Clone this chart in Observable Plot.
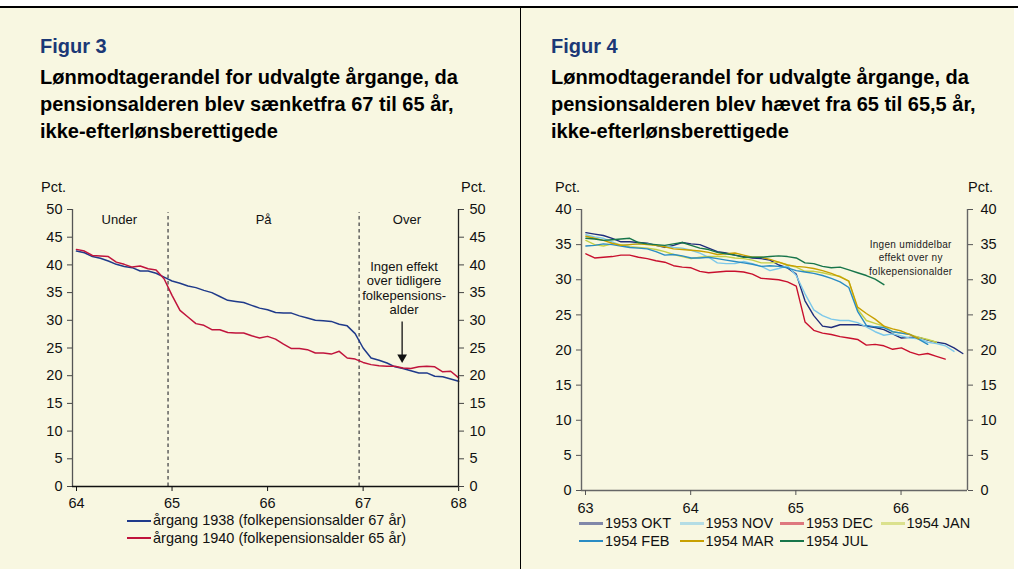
<!DOCTYPE html>
<html>
<head>
<meta charset="utf-8">
<script src="https://cdn.jsdelivr.net/npm/d3@7"></script>
<script src="https://cdn.jsdelivr.net/npm/@observablehq/plot@0.6"></script>
<style>
  html, body { margin: 0; padding: 0; background: #ffffff; }
  #page { position: relative; width: 1018px; height: 569px; background: #ffffff; font-family: "Liberation Sans", Arial, Helvetica, sans-serif; overflow: hidden; }
  .bg { position: absolute; left: 0; top: 7px; width: 1014px; height: 562px; background: #f8f7e1; }
  .topline { position: absolute; left: 0; top: 6px; width: 1018px; height: 1.5px; background: #000; }
  .divider { position: absolute; left: 520px; top: 6px; width: 1.2px; height: 563px; background: #000; }
  .fig { position: absolute; font-weight: bold; font-size: 20px; color: #1b3876; line-height: 26px; }
  .sub { position: absolute; font-weight: bold; font-size: 20px; color: #000; line-height: 27px; }
  .pct { position: absolute; font-size: 14.5px; color: #111; line-height: 17px; }
  .plot { position: absolute; }
  .legend { position: absolute; font-size: 14.5px; color: #111; line-height: 17.5px; }
  .item { display: flex; align-items: center; white-space: nowrap; }
  .sw { display: inline-block; width: 24px; height: 0; margin-right: 2px; }
</style>
</head>
<body>
<div id="page">
  <div class="bg"></div>
  <div class="topline"></div>
  <div class="divider"></div>

  <div class="fig" style="left:40px; top:33px;">Figur 3</div>
  <div class="sub" style="left:40px; top:64px;">Lønmodtagerandel for udvalgte årgange, da<br>pensionsalderen blev sænketfra 67 til 65 år,<br>ikke-efterlønsberettigede</div>
  <div class="pct" style="left:41px; top:179px;">Pct.</div>
  <div class="pct" style="left:461px; top:179px;">Pct.</div>

  <div class="fig" style="left:551px; top:33px;">Figur 4</div>
  <div class="sub" style="left:551px; top:64px;">Lønmodtagerandel for udvalgte årgange, da<br>pensionsalderen blev hævet fra 65 til 65,5 år,<br>ikke-efterlønsberettigede</div>
  <div class="pct" style="left:555px; top:179px;">Pct.</div>
  <div class="pct" style="left:968px; top:179px;">Pct.</div>

  <div id="plot3" class="plot" style="left:0px; top:200px;"></div>
  <div id="plot4" class="plot" style="left:520px; top:200px;"></div>
  <div id="legend3" class="legend" style="left:127px; top:512px;"></div>
  <div id="legend4" class="legend" style="left:579px; top:515px; width:420px; display:flex; flex-wrap:wrap;"></div>
</div>

<script>
// ---------------- Figur 3 data ----------------
// monthly observations, age = 64 + (month + 0.5)/12
const fig3Start = 64;
const fig3Names = ["årgang 1938 (folkepensionsalder 67 år)", "årgang 1940 (folkepensionsalder 65 år)"];
const fig3Colors = ["#1f3a8a", "#c0143c"];
const fig3Cohort1938 = [
  42.5, 42.2, 41.5, 41.2, 40.7, 40.1, 39.7, 39.5, 38.9, 38.9, 38.5, 37.8,
  37.1, 36.7, 36.2, 35.9, 35.4, 35.0, 34.3, 33.6, 33.4, 33.2, 32.7, 32.2,
  31.9, 31.4, 31.3, 31.3, 30.8, 30.4, 30.0, 29.9, 29.8, 29.3, 29.0, 27.6,
  25.0, 23.2, 22.8, 22.3, 21.6, 21.3, 20.9, 20.5, 20.5, 19.9, 19.8, 19.4,
  19.0
];
const fig3Cohort1940 = [
  42.8, 42.5, 41.7, 41.6, 41.5, 40.5, 40.1, 39.6, 39.8, 39.3, 39.1, 37.5,
  34.5, 31.8, 30.6, 29.4, 29.1, 28.3, 28.3, 27.8, 27.7, 27.7, 27.2, 26.8,
  27.1, 26.6, 25.7, 24.9, 24.9, 24.7, 24.1, 24.1, 23.9, 24.4, 23.2, 23.0,
  22.4, 22.0, 21.8, 21.7, 21.7, 21.4, 21.3, 21.6, 21.7, 21.6, 20.7, 20.8,
  19.6
];
const fig3XTicks = [64, 65, 66, 67, 68];
const fig3YTicks = [0, 5, 10, 15, 20, 25, 30, 35, 40, 45, 50];
const fig3Thresholds = [65, 67];
const fig3Regions = ["Under", "På", "Over"];
const fig3RegionAt = [64.49, 66.0, 67.5];
const fig3Note = ["Ingen effekt", "over tidligere", "folkepensions-", "alder"];

// ---------------- Figur 4 data ----------------
// monthly observations, age = 63 + (month + 0.5)/12
const fig4Start = 63;
const fig4Names = ["1953 OKT", "1953 NOV", "1953 DEC", "1954 JAN", "1954 FEB", "1954 MAR", "1954 JUL"];
const fig4Colors = ["#1f2d7c", "#7cc8ea", "#c8102e", "#c3cf48", "#2a8cc4", "#c8a000", "#17754a"];
const okt1953 = [
  36.7, 36.5, 36.3, 35.9, 35.4, 35.4, 35.3, 35.2, 34.9, 34.6, 34.9, 35.3,
  35.1, 35.0, 34.5, 34.0, 33.8, 33.5, 33.3, 33.1, 33.0, 32.8, 32.1, 31.7,
  30.8, 27.0, 24.9, 23.4, 23.2, 23.6, 23.6, 23.6, 23.4, 23.2, 22.9, 22.3,
  21.7, 21.8, 21.8, 21.4, 21.1, 20.9, 20.3, 19.5
];
const nov1953 = [
  36.4, 36.1, 35.9, 35.4, 34.9, 35.0, 35.1, 35.1, 34.9, 34.8, 34.6, 34.5,
  34.2, 33.8, 33.2, 32.4, 32.3, 32.3, 32.6, 32.3, 31.9, 31.3, 31.6, 32.0,
  30.6, 28.0, 25.7, 24.9, 24.4, 24.2, 24.2, 23.9, 23.3, 22.6, 22.1, 22.3,
  22.0, 21.7, 21.6, 21.1, 20.9, 20.6, 19.8
];
const dec1953 = [
  33.7, 33.1, 33.2, 33.3, 33.5, 33.5, 33.2, 33.0, 32.7, 32.5, 32.0, 31.8,
  31.7, 31.2, 31.0, 31.1, 31.2, 31.2, 31.1, 30.8, 30.2, 30.1, 30.0, 29.7,
  29.1, 24.0, 22.8, 22.4, 22.2, 21.9, 21.7, 21.5, 20.7, 20.8, 20.6, 20.1,
  20.3, 19.7, 19.3, 19.5, 19.1, 18.7
];
const jan1954 = [
  35.6, 35.0, 34.8, 35.1, 35.0, 34.7, 34.6, 34.5, 34.3, 34.0, 33.6, 33.3,
  33.0, 33.2, 33.3, 33.3, 33.3, 33.1, 33.0, 32.8, 32.4, 32.4, 32.5, 32.1,
  31.8, 31.2, 31.2, 31.0, 30.7, 30.5, 29.8, 25.8, 24.2, 23.8, 23.4, 22.6,
  22.4, 22.2, 21.8, 21.5, 21.1
];
const feb1954 = [
  34.8, 34.9, 35.1, 35.0, 34.8, 34.6, 34.5, 34.4, 34.0, 33.5, 33.6, 33.4,
  33.1, 33.1, 33.2, 33.0, 32.8, 32.6, 32.4, 32.2, 31.9, 32.0, 31.9, 31.7,
  31.3, 31.1, 30.9, 30.6, 30.2, 29.7, 28.9, 25.5, 23.5, 23.3, 23.2, 22.6,
  22.4, 22.2, 21.5, 20.8
];
const mar1954 = [
  36.2, 35.9, 35.6, 35.2, 34.9, 35.0, 35.1, 35.0, 34.9, 34.7, 34.4, 34.3,
  34.2, 34.1, 33.9, 33.6, 33.7, 33.8, 33.5, 33.2, 33.2, 32.9, 32.5, 32.1,
  31.9, 31.8, 31.6, 31.3, 30.9, 30.4, 29.8, 26.1, 25.2, 24.4, 23.4, 23.0,
  22.7, 22.2, 21.6
];
const jul1954 = [
  35.9, 35.8, 35.6, 35.7, 35.8, 35.9, 35.3, 35.1, 35.0, 34.9, 35.1, 35.3,
  34.9, 34.5, 34.3, 33.9, 33.7, 33.5, 33.2, 33.2, 33.2, 33.3, 33.4, 33.3,
  33.1, 32.4, 32.3, 31.9, 31.7, 31.8, 31.4, 31.0, 30.6, 30.1, 29.3
];
const fig4Series = [okt1953, nov1953, dec1953, jan1954, feb1954, mar1954, jul1954];
const fig4XTicks = [63, 64, 65, 66];
const fig4YTicks = [0, 5, 10, 15, 20, 25, 30, 35, 40];
const fig4Note = ["Ingen umiddelbar", "effekt over ny", "folkepensionalder"];

// ---------------- build tables ----------------
const toRows = (values, start, name) => values.map((v, k) => ({age: start + (k + 0.5) / 12, value: v, name}));
const fig3Rows = [
  ...toRows(fig3Cohort1938, fig3Start, fig3Names[0]),
  ...toRows(fig3Cohort1940, fig3Start, fig3Names[1])
];
const fig4Rows = fig4Series.flatMap((s, i) => toRows(s, fig4Start, fig4Names[i]));

const font = '"Liberation Sans", Arial, Helvetica, sans-serif';

// ---------------- Figur 3 ----------------
const x3End = 68.04;
const plot3 = Plot.plot({
  width: 520, height: 312,
  marginLeft: 72, marginRight: 62, marginTop: 9, marginBottom: 26,
  x: {domain: [64, x3End]},
  y: {domain: [0, 50]},
  color: {domain: fig3Names, range: fig3Colors},
  style: {background: "transparent", fontFamily: font, fontSize: "14.5px", color: "#111", overflow: "visible"},
  marks: [
    Plot.ruleX(fig3Thresholds, {y1: 0, y2: 49.4, stroke: "#555", strokeWidth: 1.4, strokeDasharray: "3.5,3"}),
    Plot.line(fig3Rows, {x: "age", y: "value", z: "name", stroke: "name", strokeWidth: 1.5}),
    Plot.text(fig3Regions, {x: (d, i) => fig3RegionAt[i], y: 48.1, text: d => d, fontSize: 13, fill: "#111"}),
    Plot.text(fig3Note, {x: 67.47, y: (d, i) => 39.7 - i * 2.6, text: d => d, fontSize: 13, fill: "#111"}),
    Plot.ruleX([67.45], {y1: 29.7, y2: 23.6, stroke: "#111", strokeWidth: 1.3}),
    Plot.dot([67.45], {x: d => d, y: 23.3, symbol: "triangle", rotate: 180, r: 3.6, fill: "#111", stroke: "none"}),
    Plot.ruleX([64], {stroke: "#555", strokeWidth: 1.3}),
    Plot.ruleX([x3End], {stroke: "#222", strokeWidth: 1.3}),
    Plot.ruleY([0], {stroke: "#111", strokeWidth: 1.3}),
    Plot.axisY({anchor: "left", ticks: fig3YTicks, tickSize: 5, tickPadding: 5, label: null, stroke: "#444"}),
    Plot.axisY({anchor: "right", ticks: fig3YTicks, tickSize: 5, tickPadding: 6, label: null, stroke: "#444"}),
    Plot.axisX({ticks: fig3XTicks, tickSize: 5, tickPadding: 6, tickFormat: d => String(d), label: null, dx: 4, stroke: "#111"})
  ]
});
document.getElementById("plot3").appendChild(plot3);

// ---------------- Figur 4 ----------------
const x4End = 66.67;
const plot4 = Plot.plot({
  width: 498, height: 322,
  marginLeft: 61, marginRight: 51, marginTop: 9, marginBottom: 32,
  x: {domain: [63, x4End]},
  y: {domain: [0, 40]},
  color: {domain: fig4Names, range: fig4Colors},
  style: {background: "transparent", fontFamily: font, fontSize: "14.5px", color: "#111", overflow: "visible"},
  marks: [
    Plot.line(fig4Rows, {x: "age", y: "value", z: "name", stroke: "name", strokeWidth: 1.4}),
    Plot.text(fig4Note, {x: 66.13, y: (d, i) => 34.98 - i * 1.9, text: d => d, fontSize: 10, fill: "#222"}),
    Plot.ruleX([63], {stroke: "#666", strokeWidth: 1.4}),
    Plot.ruleX([x4End], {stroke: "#666", strokeWidth: 1.4}),
    Plot.ruleY([0], {stroke: "#666", strokeWidth: 1.4}),
    Plot.axisY({anchor: "left", ticks: fig4YTicks, tickSize: 5, tickPadding: 5, label: null, stroke: "#555"}),
    Plot.axisY({anchor: "right", ticks: fig4YTicks, tickSize: 5, tickPadding: 8, label: null, stroke: "#555"}),
    Plot.axisX({ticks: fig4XTicks, tickSize: 5, tickPadding: 7, tickFormat: d => String(d), label: null, dx: 4, stroke: "#555"})
  ]
});
document.getElementById("plot4").appendChild(plot4);
// letter-spacing for the small note
plot4.querySelectorAll("text").forEach(t => { if (fig4Note.includes(t.textContent)) t.setAttribute("letter-spacing", "0.3"); });

// ---------------- legends ----------------
const leg3 = document.getElementById("legend3");
fig3Names.forEach((n, i) => {
  const it = document.createElement("div");
  it.className = "item";
  it.innerHTML = `<span class="sw" style="border-top:2px solid ${fig3Colors[i]}"></span><span>${n}</span>`;
  leg3.appendChild(it);
});
const leg4 = document.getElementById("legend4");
fig4Names.forEach((n, i) => {
  const it = document.createElement("div");
  it.className = "item";
  it.style.width = (i % 4 === 3) ? "96px" : "100.5px";
  const firstRow = i < 4;
  const sw = firstRow
    ? `<span class="sw" style="border-top:3px solid ${fig4Colors[i]}; opacity:0.55"></span>`
    : `<span class="sw" style="border-top:2px solid ${fig4Colors[i]}"></span>`;
  it.innerHTML = sw + `<span>${n}</span>`;
  leg4.appendChild(it);
});
</script>
</body>
</html>
